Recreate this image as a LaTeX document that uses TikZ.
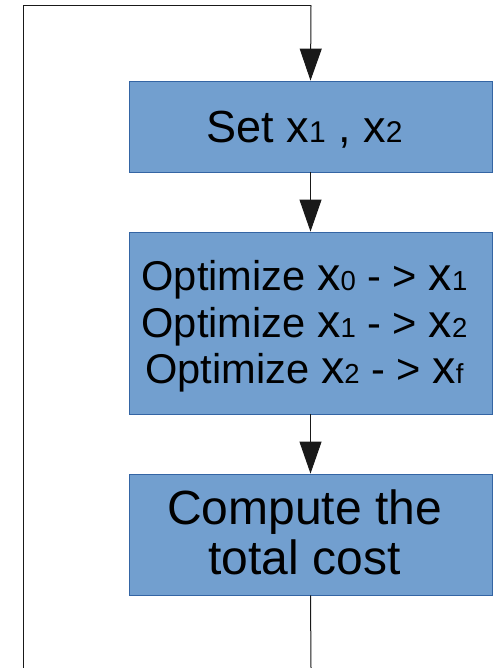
\documentclass[tikz,border=0pt]{standalone}
\usepackage{fontspec}
\setmainfont{Liberation Sans}
\usetikzlibrary{arrows.meta}
\definecolor{boxfill}{HTML}{729FCF}
\definecolor{boxline}{HTML}{3465A4}
\newcommand\vx[3]{{\fontsize{#1}{#1}\selectfont x}{\fontsize{#2}{#2}\selectfont #3}}
\newcommand\boxtext[2][5pt]{\raisebox{-#1}[\height][\depth]{\begin{tabular}{@{}c@{\hspace{12pt}}}#2\end{tabular}}}
\begin{document}
\begin{tikzpicture}[x=1pt,y=-1pt,
  flowbox/.style={draw=boxline,line width=0.8pt,fill=boxfill,minimum width=363pt,inner sep=0pt,text=black},
  conn/.style={draw=black!90,line width=1pt},
  arr/.style={conn,-{Triangle[width=22pt,length=32pt]}}]
\useasboundingbox (0,0) rectangle (495,668);
\node[flowbox,minimum height=91pt,font=\fontsize{45}{50}\selectfont] (b1) at (310.5,126.5)
  {\boxtext[6pt]{Set \vx{45}{30}{1} , \vx{45}{30}{2}}};
\node[flowbox,minimum height=182pt,font=\fontsize{41.6}{46.6}\selectfont] (b2) at (310.5,323)
  {\boxtext{Optimize \vx{46.7}{27.5}{0} - > \vx{46.7}{27.5}{1}\\
   Optimize \vx{46.7}{27.5}{1} - > \vx{46.7}{27.5}{2}\\
   Optimize \vx{46.7}{27.5}{2} - > \vx{46.7}{27.5}{f}}};
\node[flowbox,minimum height=121pt,font=\fontsize{48}{50.7}\selectfont] (b3) at (310.5,534.5)
  {\boxtext{Compute the\\ total cost}};
\coordinate (tr) at (311,5.5);
\coordinate (tl) at (23.5,5.5);
\coordinate (bl) at (23.5,668);
\coordinate (br) at (311,668);
\draw[conn] (bl) -- (tl) -- (tr);
\draw[arr] (tr) -- (b1.north);
\draw[arr] (b1.south) -- (b2.north);
\draw[arr] (b2.south) -- (b3.north);
\draw[conn] (b3.south) -- (br);
\end{tikzpicture}
\end{document}
